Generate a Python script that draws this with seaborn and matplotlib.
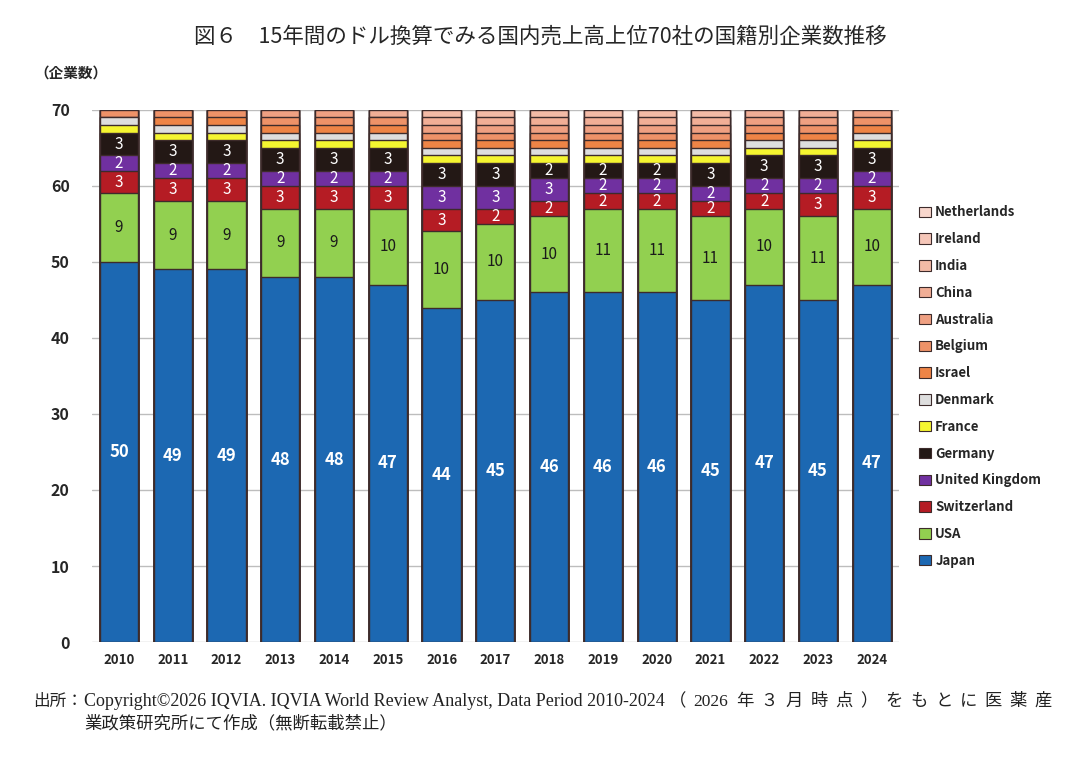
import pandas as pd
import matplotlib
matplotlib.use('Agg')
import matplotlib.pyplot as plt
from matplotlib.patches import Patch
import seaborn as sns

years = [str(y) for y in range(2010, 2025)]

# stacking order, bottom to top
countries = ['Japan', 'USA', 'Switzerland', 'United Kingdom', 'Germany', 'France',
             'Denmark', 'Israel', 'Belgium', 'Australia', 'China', 'India',
             'Ireland', 'Netherlands']

japan       = [50, 49, 49, 48, 48, 47, 44, 45, 46, 46, 46, 45, 47, 45, 47]
usa         = [9, 9, 9, 9, 9, 10, 10, 10, 10, 11, 11, 11, 10, 11, 10]
switzerland = [3, 3, 3, 3, 3, 3, 3, 2, 2, 2, 2, 2, 2, 3, 3]
uk          = [2, 2, 2, 2, 2, 2, 3, 3, 3, 2, 2, 2, 2, 2, 2]
germany     = [3, 3, 3, 3, 3, 3, 3, 3, 2, 2, 2, 3, 3, 3, 3]
france      = [1] * 15
denmark     = [1] * 15
israel      = [0, 1, 1, 1, 1, 1, 1, 1, 1, 1, 1, 1, 1, 1, 1]
belgium     = [1, 1, 1, 1, 1, 1, 1, 1, 1, 1, 1, 1, 1, 1, 1]
australia   = [0, 0, 0, 1, 1, 0, 1, 1, 1, 1, 1, 1, 1, 1, 1]
china       = [0, 0, 0, 0, 0, 1, 1, 1, 1, 1, 1, 1, 1, 1, 0]
india       = [0, 0, 0, 0, 0, 0, 1, 1, 1, 1, 1, 1, 0, 0, 0]
ireland     = [0] * 15
netherlands = [0] * 15

values = [japan, usa, switzerland, uk, germany, france, denmark, israel, belgium,
          australia, china, india, ireland, netherlands]

colors = ['#1C68B2', '#92D050', '#B51C24', '#7030A0', '#231815', '#F5F530',
          '#DEDEDE', '#EE8446', '#EE9268', '#EFA082', '#F1AE96', '#F3BAA6',
          '#F5C6B8', '#F8D6CC']

# labels only for these
labelled = {'Japan': 'white', 'USA': '#1a1a1a', 'Switzerland': 'white',
            'United Kingdom': 'white', 'Germany': 'white'}

df = pd.DataFrame(dict(zip(countries, values)), index=years)
cum = df.cumsum(axis=1)

sns.set_style('white')
plt.rcParams['font.family'] = ['Noto Sans CJK JP', 'DejaVu Sans']

fig = plt.figure(figsize=(10.74, 7.68), dpi=100)
ax = fig.add_axes([0.0857, 0.164, 0.751, 0.693])

# draw cumulative bars from top layer down so lower layers cover upper ones
for country, color in reversed(list(zip(countries, colors))):
    d = pd.DataFrame({'year': years, 'total': cum[country].values})
    sns.barplot(data=d, x='year', y='total', color=color, width=0.71,
                edgecolor='#3d2b2b', linewidth=1.0, saturation=1, ax=ax, zorder=3)

for i, yr in enumerate(years):
    for country, tc in labelled.items():
        v = df.loc[yr, country]
        if v < 2:
            continue
        mid = cum.loc[yr, country] - v / 2
        size = 12 if country == 'Japan' else 11
        ax.text(i, mid, str(v), ha='center', va='center', color=tc,
                fontsize=size, fontweight='bold' if country == 'Japan' else 'normal',
                zorder=5)

ax.set_ylim(0, 70)
ax.set_xlim(-0.5, 14.5)
ax.set_yticks(range(0, 71, 10))
ax.yaxis.grid(True, color='#BDBDBD', linewidth=1.0, zorder=0)
ax.set_axisbelow(True)
for s in ax.spines.values():
    s.set_visible(False)
ax.tick_params(axis='both', length=0)
ax.tick_params(axis='y', labelsize=11.5, pad=16)
ax.tick_params(axis='x', labelsize=9.5, pad=8)
for lab in ax.get_yticklabels() + ax.get_xticklabels():
    lab.set_fontweight('bold')
ax.set_xlabel('')
ax.set_ylabel('')

handles = [Patch(facecolor=c, edgecolor='#3d2b2b', linewidth=0.8, label=n)
           for n, c in zip(countries, colors)][::-1]
fig.legend(handles=handles, loc='upper left', bbox_to_anchor=(0.845, 0.748),
           frameon=False, handlelength=0.85, handleheight=0.85, handletextpad=0.35,
           labelspacing=0.97, prop={'weight': 'bold', 'size': 9.5})

fig.text(0.503, 0.952, '図６　15年間のドル換算でみる国内売上高上位70社の国籍別企業数推移',
         ha='center', va='center', fontsize=15.5)
fig.text(0.032, 0.905, '（企業数）', ha='left', va='center', fontsize=10.5,
         fontweight='bold')

# footer: first line is justified to the right edge
foot = ['Liberation Serif', 'Noto Sans CJK JP']
W = 1074.0
y1, y2 = 0.086, 0.057
fc = '#222222'
renderer = fig.canvas.get_renderer()
src = fig.text(33 / W, y1, '出所：', ha='left', va='center', fontsize=12,
               family=foot, color=fc)
src_end = src.get_window_extent(renderer).x1
latin = fig.text((src_end + 1) / W, y1, 'Copyright©2026 IQVIA. IQVIA World Review Analyst, '
                 'Data Period 2010-2024', ha='left', va='center', fontsize=13,
                 family=foot, color=fc)
tail = ['（', '2026', '年', '３', '月', '時', '点', '）',
        'を', 'も', 'と', 'に', '医', '薬', '産']
pieces = [fig.text(0, y1, ch, ha='left', va='center', fontsize=12.5,
                   family=foot, color=fc) for ch in tail]
widths = [p.get_window_extent(renderer).width for p in pieces]
x_start, x_end = latin.get_window_extent(renderer).x1 + 4, 1052.0
gap = (x_end - x_start - sum(widths)) / (len(tail) - 1)
x = x_start
for p, w in zip(pieces, widths):
    p.set_x(x / W)
    x += w + gap
fig.text((src_end + 1) / W, y2, '業政策研究所にて作成（無断転載禁止）', ha='left',
         va='center', fontsize=12.5, family=foot, color=fc)

fig.savefig('out.png', dpi=100)
